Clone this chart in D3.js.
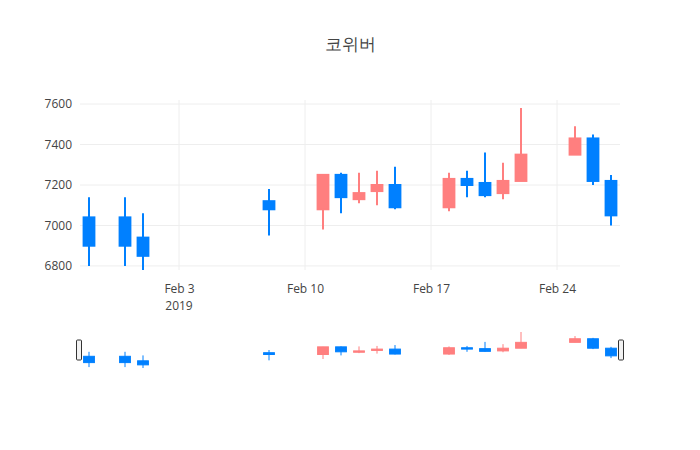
<!DOCTYPE html>
<html><head><meta charset="utf-8">
<script src="https://cdn.jsdelivr.net/npm/d3@7"></script>
<style>body{margin:0;background:#fff}text{font-family:"Open Sans",sans-serif}</style>
</head><body><svg id="c" width="700" height="450"></svg>
<script>
const dates = ["2019-01-29","2019-01-31","2019-02-01","2019-02-08","2019-02-11","2019-02-12","2019-02-13","2019-02-14","2019-02-15","2019-02-18","2019-02-19","2019-02-20","2019-02-21","2019-02-22","2019-02-25","2019-02-26","2019-02-27"];
const open  = [7040,7040,6940,7120,7080,7250,7130,7170,7200,7090,7230,7210,7160,7220,7350,7430,7220];
const high  = [7140,7140,7060,7180,7250,7260,7260,7270,7290,7260,7270,7360,7310,7580,7490,7450,7250];
const low   = [6800,6800,6780,6950,6980,7060,7110,7100,7080,7070,7140,7140,7130,7220,7350,7200,7000];
const close = [6900,6900,6850,7080,7250,7140,7160,7200,7090,7230,7200,7150,7220,7350,7430,7220,7050];
const yTicks = [6800,7000,7200,7400,7600];
const xTickDates = ["2019-02-03","2019-02-10","2019-02-17","2019-02-24"];
const title = "코위버";

const UP="#FF7F7F", DOWN="#0080FF";
const svg=d3.select("#c");
const P=d3.timeParse("%Y-%m-%d");
const data=dates.map((d,i)=>({d:P(d),o:open[i],h:high[i],l:low[i],c:close[i]}));
const L=80,R=620,T=100,B=270;
const x=d3.scaleTime().domain([d3.timeHour.offset(P(dates[0]),-12),d3.timeHour.offset(P(dates[dates.length-1]),12)]).range([L,R]);
const y=d3.scaleLinear().domain([6780,7620]).range([B,T]);
const dayW=x(P("2019-02-02"))-x(P("2019-02-01"));
const bw=dayW*0.6;

svg.append("text").attr("x",350).attr("y",50).attr("text-anchor","middle").attr("font-size",17).attr("fill","#444").text(title);

// grid
const g=svg.append("g");
g.selectAll(".gy").data(yTicks).join("line").attr("x1",L).attr("x2",R).attr("y1",d=>y(d)).attr("y2",d=>y(d)).attr("stroke","#eee");
g.selectAll(".gx").data(xTickDates).join("line").attr("x1",d=>x(P(d))).attr("x2",d=>x(P(d))).attr("y1",T).attr("y2",B).attr("stroke","#eee");

const ya=svg.append("g").attr("transform",`translate(${L-4},0)`).call(d3.axisLeft(y).tickValues(yTicks).tickSize(0).tickPadding(4).tickFormat(d3.format("d")));
ya.select(".domain").remove();
ya.selectAll("text").attr("font-size",12).attr("fill","#444");
const xa=svg.append("g").attr("transform",`translate(0,${B+6})`).call(d3.axisBottom(x).tickValues(xTickDates.map(P)).tickSize(0).tickPadding(8).tickFormat(d3.timeFormat("%b %-d")));
xa.select(".domain").remove();
xa.selectAll("text").attr("font-size",12).attr("fill","#444");
svg.append("text").attr("x",x(P("2019-02-03"))).attr("y",B+40).attr("text-anchor","middle").attr("font-size",12).attr("fill","#444").text("2019");

function candles(sel,yS,lw){
  const c=sel.selectAll("g.cd").data(data).join("g");
  c.append("line").attr("x1",d=>x(d.d)).attr("x2",d=>x(d.d)).attr("y1",d=>yS(d.h)).attr("y2",d=>yS(d.l)).attr("stroke",d=>d.c>=d.o?UP:DOWN).attr("stroke-width",lw);
  c.append("rect").attr("x",d=>x(d.d)-bw/2).attr("width",bw).attr("y",d=>yS(Math.max(d.o,d.c))).attr("height",d=>Math.max(1,Math.abs(yS(d.o)-yS(d.c)))).attr("fill",d=>d.c>=d.o?UP:DOWN).attr("stroke",d=>d.c>=d.o?UP:DOWN).attr("stroke-width",lw);
}
candles(svg.append("g"),y,2);

// range slider
const sT=330,sB=372;
svg.append("rect").attr("x",L).attr("y",sT).attr("width",R-L).attr("height",sB-sT).attr("fill","#fff").attr("stroke","#bec8d9").attr("stroke-width",0);
const ys=d3.scaleLinear().domain([6780,7580]).range([368,332]);
candles(svg.append("g"),ys,1);
[L-1,R+1].forEach(px=>{
  svg.append("rect").attr("x",px-2.5).attr("y",sT+10).attr("width",5).attr("height",20).attr("rx",1).attr("fill","#f2f2f2").attr("stroke","#333").attr("stroke-width",1);
});
</script></body></html>
